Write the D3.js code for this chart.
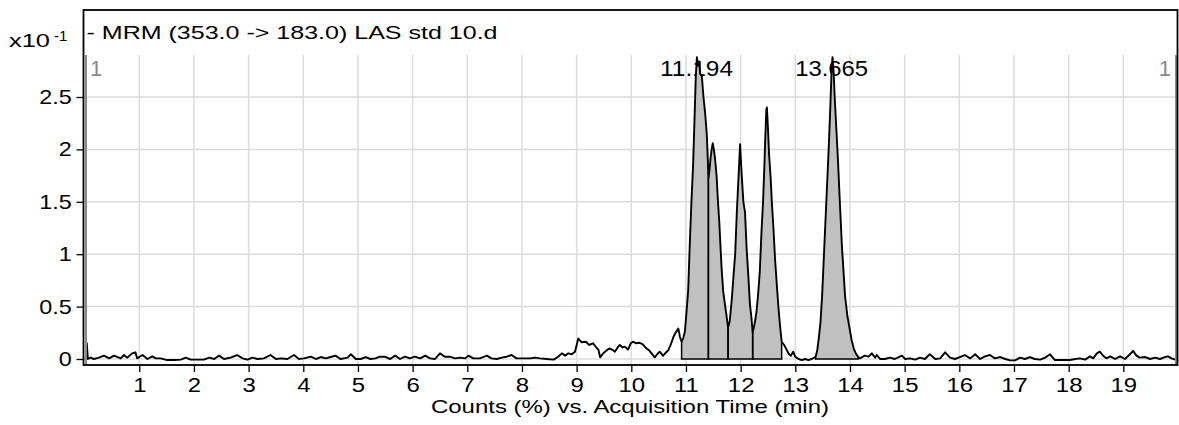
<!DOCTYPE html>
<html><head><meta charset="utf-8">
<script src="https://cdn.jsdelivr.net/npm/d3@7"></script>
<style>body{margin:0;background:#fff} text{font-family:"Liberation Sans",Arial,sans-serif}</style>
</head><body><svg id="c" width="1179" height="425"></svg>
<script>
const titleText = "- MRM (353.0 -> 183.0) LAS std 10.d";
const xAxisTitle = "Counts (%) vs. Acquisition Time (min)";
const yMultiplier = ["x10", "-1"];
const xTicks = [1,2,3,4,5,6,7,8,9,10,11,12,13,14,15,16,17,18,19];
const yTicks = [0,0.5,1,1.5,2,2.5];
const yTickLabels = ["0","0.5","1","1.5","2","2.5"];
const peakTimes = [11.194, 13.665];
const peakLabels = ["11.194", "13.665"];
const rangeMarkers = ["1", "1"];
const integrations = [[10.92,11.41],[11.41,11.77],[11.77,12.22],[12.22,12.75],[13.37,14.15]];
const trace = [
[0.02,0.00],[0.04,0.15],[0.06,0.00],[0.11,0.013],[0.17,0.00],[0.26,0.013],[0.355,0.032],[0.45,0.006],[0.54,0.032],[0.66,0.006],[0.72,0.038],[0.78,0.013],[0.87,0.054],[0.93,0.064],[0.96,0.006],[1.06,0.038],[1.15,0.00],[1.24,0.025],[1.30,0.006],[1.39,0.006],[1.51,-0.01],[1.64,-0.01],[1.76,-0.006],[1.85,0.013],[1.94,-0.006],[2.06,-0.006],[2.18,-0.006],[2.28,0.013],[2.37,0.00],[2.46,0.032],[2.55,0.00],[2.67,0.013],[2.79,0.038],[2.89,0.006],[2.98,-0.006],[3.07,0.013],[3.16,0.00],[3.28,0.006],[3.40,0.038],[3.50,0.00],[3.59,0.006],[3.71,0.00],[3.83,0.038],[3.92,0.00],[4.01,0.006],[4.14,0.022],[4.23,0.00],[4.32,0.019],[4.41,0.006],[4.50,0.019],[4.59,0.032],[4.68,0.00],[4.81,0.013],[4.87,0.045],[4.96,0.00],[5.05,0.00],[5.14,0.019],[5.23,0.00],[5.32,0.006],[5.40,0.022],
[5.49,0.022],[5.59,0.00],[5.68,0.032],[5.77,0.00],[5.86,0.022],[5.95,0.006],[6.04,0.022],[6.14,0.006],[6.23,0.032],[6.32,0.006],[6.41,0.00],[6.50,0.054],[6.59,0.022],[6.68,0.022],[6.78,0.006],[6.87,0.013],[6.96,0.006],[7.02,0.032],[7.11,0.006],[7.23,0.006],[7.36,0.032],[7.44,0.006],[7.54,0.00],[7.63,0.013],[7.72,0.022],[7.81,0.038],[7.90,0.006],[8.03,0.006],[8.15,0.006],[8.24,0.013],[8.33,0.006],[8.45,0.00],[8.58,-0.006],[8.66,0.022],[8.73,0.054],[8.79,0.032],[8.85,0.054],[8.91,0.045],[8.97,0.07],
[9.03,0.195],[9.09,0.16],[9.17,0.165],[9.23,0.134],[9.30,0.15],[9.36,0.11],[9.40,0.086],[9.43,0.016],[9.48,0.05],[9.52,0.07],[9.58,0.095],[9.61,0.10],[9.66,0.085],[9.70,0.07],[9.75,0.11],[9.79,0.134],[9.84,0.11],[9.88,0.118],[9.94,0.09],[9.99,0.15],[10.03,0.165],[10.09,0.15],[10.15,0.155],[10.21,0.14],[10.28,0.10],[10.33,0.08],[10.37,0.054],[10.43,0.016],[10.48,0.05],[10.52,0.07],[10.58,0.03],[10.63,0.06],[10.68,0.086],[10.73,0.15],[10.77,0.21],[10.81,0.25],[10.86,0.29],[10.89,0.21],[10.92,0.165],
[10.95,0.20],[10.98,0.26],[11.01,0.45],[11.04,0.65],[11.07,1.10],[11.10,1.50],[11.13,1.85],[11.16,2.35],[11.18,2.70],[11.20,2.88],[11.22,2.80],[11.24,2.84],[11.26,2.72],[11.29,2.70],[11.32,2.50],[11.35,2.35],[11.38,2.15],[11.40,1.90],[11.41,1.72],
[11.43,1.80],[11.45,1.92],[11.47,2.00],[11.49,2.06],[11.51,2.00],[11.53,1.92],[11.56,1.75],[11.58,1.55],[11.61,1.30],[11.65,0.88],[11.68,0.65],[11.71,0.53],[11.74,0.42],[11.77,0.30],
[11.80,0.36],[11.84,0.58],[11.87,0.80],[11.90,1.00],[11.93,1.40],[11.96,1.72],[11.99,2.05],[12.00,1.95],[12.02,1.75],[12.05,1.50],[12.08,1.40],[12.11,1.05],[12.14,0.80],[12.17,0.52],[12.20,0.38],[12.22,0.25],
[12.26,0.35],[12.29,0.45],[12.32,0.62],[12.35,0.83],[12.38,1.20],[12.41,1.50],[12.43,1.78],[12.45,2.10],[12.47,2.38],[12.48,2.40],[12.50,2.20],[12.52,1.95],[12.55,1.72],[12.57,1.50],[12.60,1.25],[12.63,0.95],[12.66,0.72],[12.69,0.50],[12.72,0.32],[12.75,0.165],
[12.80,0.13],[12.84,0.09],[12.88,0.05],[12.92,0.03],[12.96,0.07],[13.00,0.02],[13.06,0.00],[13.12,-0.01],[13.18,0.00],[13.24,-0.01],[13.30,0.00],[13.37,0.02],
[13.40,0.08],[13.43,0.20],[13.46,0.35],[13.49,0.60],[13.52,0.95],[13.55,1.30],[13.58,1.65],[13.61,2.00],[13.64,2.40],[13.66,2.70],[13.68,2.88],[13.70,2.75],[13.72,2.50],[13.75,2.20],[13.78,1.90],[13.81,1.55],[13.85,1.10],[13.88,0.85],[13.91,0.60],[13.95,0.42],[13.99,0.30],[14.03,0.18],[14.07,0.10],[14.11,0.05],[14.15,0.02],
[14.18,0.006],[14.27,0.032],[14.34,0.022],[14.40,0.054],[14.46,0.013],[14.49,0.038],[14.55,0.00],[14.64,0.00],[14.73,0.013],[14.82,0.00],[14.95,0.032],[15.01,0.00],[15.10,0.006],[15.19,-0.006],[15.28,0.013],[15.37,0.00],[15.46,0.045],[15.56,0.00],[15.65,0.006],[15.74,0.064],[15.83,0.013],[15.92,0.00],[16.01,0.019],[16.10,0.038],[16.20,0.006],[16.29,0.045],[16.38,0.00],[16.47,0.025],[16.56,0.038],[16.65,0.006],[16.75,0.019],[16.84,0.00],[16.93,-0.013],[17.02,-0.013],[17.11,0.013],[17.20,0.00],[17.29,0.019],[17.38,0.00],[17.48,-0.006],[17.57,0.013],[17.66,0.045],[17.75,-0.01],[17.84,-0.01],[17.93,-0.01],[18.02,-0.01],[18.12,0.00],[18.21,0.006],[18.30,-0.006],[18.39,0.025],[18.45,0.006],[18.51,0.051],[18.57,0.07],[18.63,0.032],[18.69,0.006],[18.76,0.025],[18.85,0.00],[18.94,0.025],[19.03,0.00],[19.12,0.045],[19.18,0.076],[19.24,0.032],[19.30,0.013],[19.40,0.019],[19.49,0.00],[19.58,0.013],[19.67,0.00],[19.76,0.019],[19.82,0.025],[19.88,0.006],[19.95,-0.006],[19.98,-0.01]
];

const svg = d3.select("#c");
const FONT = '"Liberation Sans",Arial,sans-serif';
const L = 83.5, R = 1177.5, T = 10, B = 365, GT = 55;
const x = d3.scaleLinear().domain([0, 20]).range([84.6, 1178]);
const y = d3.scaleLinear().domain([0, 2.5]).range([359, 97]);

svg.append("defs").append("clipPath").attr("id","clip")
  .append("rect").attr("x", L+1).attr("y", GT).attr("width", R-L-2).attr("height", B-GT);

// grid
const grid = svg.append("g").attr("stroke","#dcdcdc").attr("stroke-width",1.5);
grid.selectAll("line.v").data(xTicks).join("line").attr("class","v")
  .attr("x1", d=>x(d)).attr("x2", d=>x(d)).attr("y1", GT).attr("y2", B);
grid.selectAll("line.h").data(yTicks).join("line").attr("class","h")
  .attr("x1", L).attr("x2", R).attr("y1", d=>y(d)).attr("y2", d=>y(d));

// axes
const xAxis = d3.axisBottom(x).tickValues(xTicks).tickFormat(d3.format("d")).tickSize(7).tickPadding(5);
const gx = svg.append("g").attr("transform", `translate(0,${B})`).call(xAxis);
gx.select(".domain").remove();
gx.selectAll("line").attr("stroke","#000").attr("stroke-width",1.3);
gx.selectAll("text").attr("font-size", 21).attr("fill","#000").attr("font-family",FONT)
  .attr("transform","scale(1.14,1)");

const yAxis = d3.axisLeft(y).tickValues(yTicks).tickFormat((d,i)=>yTickLabels[i]).tickSize(7).tickPadding(3);
const gy = svg.append("g").attr("transform", `translate(${L},0)`).call(yAxis);
gy.select(".domain").remove();
gy.selectAll("line").attr("stroke","#000").attr("stroke-width",1.3);
gy.selectAll("text").attr("font-size", 20).attr("fill","#000").attr("font-family",FONT)
  .attr("transform","scale(1.17,1)");

// peak labels
svg.selectAll("text.pk").data(peakTimes).join("text").attr("class","pk")
  .attr("x", d=>x(d)-36.5).attr("y", 76).attr("font-size", 22)
  .attr("textLength", 73).attr("lengthAdjust","spacingAndGlyphs")
  .text((d,i)=>peakLabels[i]);

const plot = svg.append("g").attr("clip-path","url(#clip)");
// integration fills
integrations.forEach(([a,b])=>{
  const pts = trace.filter(p=>p[0]>=a-1e-9 && p[0]<=b+1e-9);
  plot.append("path").datum(pts)
    .attr("d", d3.area().x(p=>x(p[0])).y0(y(0)).y1(p=>y(p[1])))
    .attr("fill","#c0c0c0");
});
// integration baseline + boundary lines
integrations.forEach(([a,b])=>{
  const va = trace.find(p=>Math.abs(p[0]-a)<1e-9)[1];
  const vb = trace.find(p=>Math.abs(p[0]-b)<1e-9)[1];
  plot.append("path")
    .attr("d", d3.line()([[x(a),y(va)],[x(a),y(0)],[x(b),y(0)],[x(b),y(vb)]]))
    .attr("fill","none").attr("stroke","#000").attr("stroke-width",1.5);
});
// trace
plot.append("path").datum(trace)
  .attr("d", d3.line().x(p=>x(p[0])).y(p=>y(p[1])))
  .attr("fill","none").attr("stroke","#000").attr("stroke-width",1.9).attr("stroke-linejoin","round");

// range markers
svg.append("line").attr("x1",L+2.5).attr("x2",L+2.5).attr("y1",GT).attr("y2",B).attr("stroke","#8a8a8a").attr("stroke-width",2);
svg.append("line").attr("x1",R-1.5).attr("x2",R-1.5).attr("y1",GT).attr("y2",B).attr("stroke","#8a8a8a").attr("stroke-width",2);
svg.append("text").attr("x", 90).attr("y", 76).attr("font-size",22).attr("fill","#8a8a8a").text(rangeMarkers[0]);
svg.append("text").attr("x", 1171).attr("y", 76).attr("text-anchor","end").attr("font-size",22).attr("fill","#8a8a8a").text(rangeMarkers[1]);

// frame
svg.append("rect").attr("x",L).attr("y",T).attr("width",R-L).attr("height",B-T)
  .attr("fill","none").attr("stroke","#000").attr("stroke-width",1.8);

// title
svg.append("text").attr("x", 86.5).attr("y", 38.5).attr("font-size", 19)
  .attr("textLength", 411).attr("lengthAdjust","spacingAndGlyphs").text(titleText);
svg.append("text").attr("x", 9).attr("y", 46.5).attr("font-size", 19)
  .attr("textLength", 41).attr("lengthAdjust","spacingAndGlyphs").text(yMultiplier[0]);
svg.append("text").attr("x", 54).attr("y", 41).attr("font-size", 15).text(yMultiplier[1]);

svg.append("text").attr("x", 431).attr("y", 413).attr("font-size", 18.5)
  .attr("textLength", 398).attr("lengthAdjust","spacingAndGlyphs").text(xAxisTitle);
</script></body></html>
